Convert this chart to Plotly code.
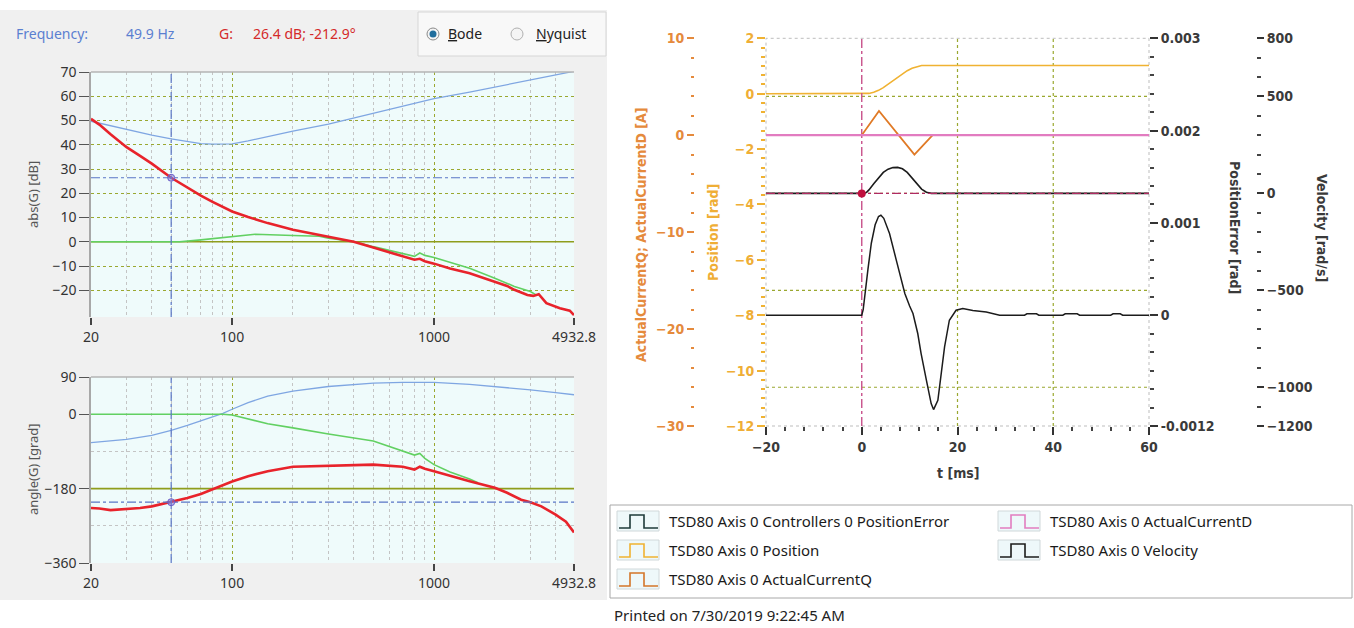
import plotly.graph_objects as go
import numpy as np

W, H = 1354, 628
def px(x):
    return x / W
def py(y):
    return 1 - y / H

# ---------------- Bode diagram data (frequency in Hz) ----------------
freq_range = [20, 4932.8]
mag_range = [-31, 70]
phase_range = [-360, 90]
mag_ticks = [70, 60, 50, 40, 30, 20, 10, 0, -10, -20]
phase_ticks = [90, 0, -180, -360]
phase_minor = [-90, -270]
freq_ticks = [20, 100, 1000, 4932.8]
freq_ticktext = ["20", "100", "1000", "4932.8"]
freq_minor = [30, 40, 50, 60, 70, 80, 90, 200, 300, 400, 500, 600, 700, 800, 900, 2000, 3000, 4000]

cursor_freq = 49.9
cursor_mag = 26.4
cursor_phase = -212.9
ref_mag = 0
ref_phase = -180

# controller (blue)
f_ctrl_mag = [20, 30, 40, 49.9, 60, 70, 80, 100, 120, 150, 200, 300, 500, 700, 1000, 1500, 2000, 3000, 4000, 4932.8]
ctrl_mag = [49.7, 46.3, 44.0, 42.4, 41.2, 40.5, 40.3, 40.4, 41.6, 43.4, 45.6, 48.5, 53.0, 55.9, 59.0, 61.7, 63.8, 66.6, 68.7, 70.3]
f_ctrl_ph = [20, 30, 40, 49.9, 60, 70, 80, 90, 100, 120, 150, 200, 300, 500, 700, 1000, 1500, 2000, 3000, 4000, 4932.8]
ctrl_ph = [-69, -61, -51, -39, -27, -16, -6, 2, 12, 28, 44, 56, 67, 75, 77, 77, 72, 67, 59, 52, 47]

# open loop (red)
f_open_mag = [20, 22, 25, 30, 35, 40, 49.9, 60, 70, 80, 100, 120, 150, 200, 300, 400, 500, 600, 700, 800, 850,
              900, 1000, 1200, 1500, 2000, 2300, 2500, 2900, 3100, 3300, 3600, 4200, 4700, 4932.8]
open_mag = [50.7, 48.3, 44.3, 39.0, 35.4, 32.2, 26.4, 22.3, 19.0, 16.5, 12.5, 10.2, 7.7, 5.0, 2.2, 0.0, -2.4, -4.3,
            -5.9, -7.4, -7.0, -8.0, -9.0, -11.0, -13.0, -16.4, -18.2, -19.8, -21.9, -22.3, -21.6, -25.3, -27.4, -28.4, -30.2]
f_open_ph = [20, 22, 25, 30, 35, 40, 49.9, 60, 70, 80, 100, 120, 150, 200, 300, 500, 700, 800, 850, 900, 1000,
             1200, 1500, 2000, 2300, 2700, 3000, 3400, 4000, 4500, 4932.8]
open_ph = [-227, -228, -232, -230, -227, -223, -212.9, -203, -193, -182, -163, -150, -138, -127, -124, -122, -127,
           -134, -127, -132, -138, -148, -162, -178, -190, -207, -213, -223, -243, -260, -286]

# closed loop (green)
f_cl_mag = [20, 55, 70, 90, 100, 130, 200, 270, 300, 400, 500, 700, 800, 850, 900, 1000, 1500, 2000, 2500, 3000, 3200]
cl_mag = [0, 0, 0.8, 1.7, 2.2, 3.1, 2.6, 2.3, 1.5, 0.1, -2.0, -4.7, -6.0, -4.6, -5.6, -6.5, -10.9, -15.0, -18.4, -20.5, -21.9]
f_cl_ph = [20, 90, 100, 120, 150, 200, 300, 500, 700, 800, 850, 900, 1000, 1200, 1500, 1650]
cl_ph = [0, 0, -2, -12, -23, -33, -48, -65, -89, -99, -95, -107, -122, -140, -157, -166]

# ---------------- Time-domain data (t in ms) ----------------
t_range = [-20, 60]
t_ticks = [-20, 0, 20, 40, 60]
pos_range = [-12, 2]
pos_ticks = [2, 0, -2, -4, -6, -8, -10, -12]
cur_range = [-30, 10]
cur_ticks = [10, 0, -10, -20, -30]
pe_range = [-0.0012, 0.003]
pe_ticks = [0.003, 0.002, 0.001, 0, -0.0012]
pe_ticktext = ["0.003", "0.002", "0.001", "0", "-0.0012"]
vel_range = [-1200, 800]
vel_ticks = [800, 500, 0, -500, -1000, -1200]
vel_grid = [500, 0, -500, -1000]
t_grid = [20, 40]
cursor_t = 0
cursor_vel = 0

t_pos = [-20, 0.5, 1.5, 2.5, 3.5, 4.5, 5.5, 6.5, 7.5, 8.5, 9.5, 10.5, 11.5, 12.5, 60]
position = [0, 0, 0.01, 0.05, 0.12, 0.22, 0.34, 0.47, 0.60, 0.72, 0.83, 0.92, 0.98, 1.02, 1.02]

t_curq = [-20, 0, 3.6, 11.0, 14.8, 60]
current_q = [0, 0, 2.5, -2.0, 0, 0]
t_curd = [-20, 60]
current_d = [0, 0]

t_vel = [-20, 0, 0.5, 1, 1.5, 2.5, 3.5, 4.5, 5.5, 6.5, 7.5, 8.5, 9.5, 10.5, 11.5, 12.5, 13.5, 14.5, 60]
velocity = [0, 0, 0, 5, 18, 50, 82, 108, 125, 133, 134, 127, 108, 80, 50, 22, 6, 0, 0]

t_pe = [-20, 0, 0.3, 0.8, 1.3, 2.0, 2.8, 3.5, 4.0, 4.6, 5.8, 7.2, 8.3, 9.0, 10.0, 10.7, 11.7, 12.4, 13.5, 14.5,
        15.0, 15.9, 16.6, 17.3, 18.3, 19.7, 21.1, 23.2, 26.0, 28.8, 34.0, 34.5, 36.5, 37.0, 42.0, 42.5, 45.0,
        45.5, 52.0, 52.5, 54.0, 54.5, 60]
pos_err_mrad = [0, 0, 0.06, 0.30, 0.50, 0.78, 0.98, 1.07, 1.083, 1.05, 0.885, 0.60, 0.38, 0.235, 0.10, 0.018,
                -0.198, -0.415, -0.704, -0.957, -1.022, -0.921, -0.632, -0.343, -0.054, 0.054, 0.072, 0.050,
                0.036, 0.0, 0.0, 0.015, 0.015, 0.0, 0.0, 0.015, 0.015, 0.0, 0.0, 0.015, 0.015, 0.0, 0.0]
pos_err = [v * 1e-3 for v in pos_err_mrad]  # mrad -> rad

# ---------------- styles ----------------
OLIVE = "#8f9d1c"
OLIVE_GRID = "#9aa830"
BLUE = "#7fa6e2"
RED = "#e8232b"
GREEN = "#62d062"
CURSOR_BLUE = "#5a76c6"
FONT_L = "Noto Sans, DejaVu Sans, sans-serif"
FONT_R = "DejaVu Sans Condensed, Liberation Sans Narrow, Roboto, sans-serif"
POS_C = "#f0b232"
CURQ_C = "#e07a26"
CURD_C = "#e27cc0"
CUR_LBL = "#e58a3c"
POS_LBL = "#efae36"
DARK_LBL = "#3a3a3a"

fig = go.Figure()

def line(x, y, xa, ya, color, width, dash="solid", name=None):
    fig.add_trace(go.Scatter(x=x, y=y, xaxis=xa, yaxis=ya, mode="lines", name=name,
                             line=dict(color=color, width=width, dash=dash), hoverinfo="skip"))

# Bode magnitude
line(freq_range, [ref_mag, ref_mag], "x", "y", OLIVE, 1.6)
line(f_ctrl_mag, ctrl_mag, "x", "y", BLUE, 1.3, name="controller")
line(f_cl_mag, cl_mag, "x", "y", GREEN, 1.6, name="closed loop")
line(f_open_mag, open_mag, "x", "y", RED, 2.6, name="open loop")
line(freq_range, [cursor_mag, cursor_mag], "x", "y", CURSOR_BLUE, 1.2, "dashdot")
line([cursor_freq, cursor_freq], mag_range, "x", "y", CURSOR_BLUE, 1.2, "dashdot")
fig.add_trace(go.Scatter(x=[cursor_freq], y=[cursor_mag], xaxis="x", yaxis="y", mode="markers",
                         marker=dict(size=7, color="rgba(120,120,220,0.5)", line=dict(color="#6a5ac8", width=1)),
                         hoverinfo="skip"))

# Bode phase
line(freq_range, [ref_phase, ref_phase], "x2", "y2", OLIVE, 1.6)
line(f_ctrl_ph, ctrl_ph, "x2", "y2", BLUE, 1.3)
line(f_cl_ph, cl_ph, "x2", "y2", GREEN, 1.6)
line(f_open_ph, open_ph, "x2", "y2", RED, 2.6)
line(freq_range, [cursor_phase, cursor_phase], "x2", "y2", CURSOR_BLUE, 1.2, "dashdot")
line([cursor_freq, cursor_freq], phase_range, "x2", "y2", CURSOR_BLUE, 1.2, "dashdot")
fig.add_trace(go.Scatter(x=[cursor_freq], y=[cursor_phase], xaxis="x2", yaxis="y2", mode="markers",
                         marker=dict(size=7, color="rgba(120,120,220,0.5)", line=dict(color="#6a5ac8", width=1)),
                         hoverinfo="skip"))

# Time domain
line(t_pos, position, "x3", "y3", POS_C, 1.6, name="TSD80 Axis 0 Position")
line([cursor_t, cursor_t], pos_range, "x3", "y3", "#c8508a", 1.4, "dashdot")
line(t_curq, current_q, "x3", "y4", CURQ_C, 1.8, name="TSD80 Axis 0 ActualCurrentQ")
line(t_curd, current_d, "x3", "y4", CURD_C, 2.2, name="TSD80 Axis 0 ActualCurrentD")
line(t_pe, pos_err, "x3", "y5", "#1c1c1c", 1.5, name="TSD80 Axis 0 Controllers 0 PositionError")
line(t_vel, velocity, "x3", "y6", "#1c1c1c", 1.6, name="TSD80 Axis 0 Velocity")
line(t_range, [cursor_vel, cursor_vel], "x3", "y6", "#b02a62", 1.4, "dashdot")
fig.add_trace(go.Scatter(x=[cursor_t], y=[cursor_vel], xaxis="x3", yaxis="y6", mode="markers",
                         marker=dict(size=8, color="#c0103e"), hoverinfo="skip"))

# ---------------- axes ----------------
tickfont_l = dict(family=FONT_L, size=14, color="#333333")
bode_x = dict(type="log", range=[np.log10(freq_range[0]), np.log10(freq_range[1])],
              domain=[px(91), px(574)], tickvals=freq_ticks, ticktext=freq_ticktext,
              ticks="outside", ticklen=7, tickcolor="#444", tickwidth=1.5, tickfont=tickfont_l,
              showgrid=True, gridcolor=OLIVE_GRID, griddash="dot", gridwidth=1,
              minor=dict(tickvals=freq_minor, showgrid=True, gridcolor="#c4c4c4", griddash="dot",
                         gridwidth=1, ticklen=0),
              showline=False, zeroline=False, fixedrange=True, automargin=False)
fig.update_layout(
    xaxis=dict(bode_x, anchor="y"),
    xaxis2=dict(bode_x, anchor="y2"),
    yaxis=dict(range=mag_range, domain=[py(317), py(72)], anchor="x", tickvals=mag_ticks,
               ticks="outside", ticklen=10, tickcolor="#555", tickfont=tickfont_l,
               showline=True, linecolor="#a8a8a8", linewidth=1.5, automargin=False,
               showgrid=True, gridcolor=OLIVE_GRID, griddash="dot", zeroline=False),
    yaxis2=dict(range=phase_range, domain=[py(563), py(377)], anchor="x2", tickvals=phase_ticks,
                ticks="outside", ticklen=10, tickcolor="#555", tickfont=tickfont_l,
                showline=True, linecolor="#a8a8a8", linewidth=1.5, automargin=False,
                showgrid=True, gridcolor=OLIVE_GRID, griddash="dot", zeroline=False,
                minor=dict(tickvals=phase_minor, showgrid=True, gridcolor="#c4c4c4", griddash="dot", ticklen=0)),
)

def rfont(color, size=14):
    return dict(family=FONT_R, size=size, color=color, weight="bold")

fig.update_layout(
    xaxis3=dict(range=t_range, domain=[px(766), px(1149)], anchor="y3", tickvals=t_ticks,
                ticks="outside", ticklen=8, tickwidth=2, tickcolor="#333", tickfont=rfont(DARK_LBL),
                minor=dict(dtick=4, tick0=0, ticks="outside", ticklen=4, tickwidth=2, tickcolor="#444"),
                showgrid=False, showline=False, zeroline=False, automargin=False),
    yaxis3=dict(range=pos_range, domain=[py(426), py(38.3)], anchor="x3", side="left", tickvals=pos_ticks,
                ticks="outside", ticklen=8, tickwidth=2, tickcolor=POS_C, tickfont=rfont(POS_LBL),
                minor=dict(dtick=1 / 3, tick0=0, ticks="outside", ticklen=4, tickwidth=1.5, tickcolor=POS_C),
                showgrid=False, showline=False, zeroline=False, automargin=False),
    yaxis4=dict(range=cur_range, overlaying="y3", side="left", anchor="free", position=px(694),
                tickvals=cur_ticks, ticks="outside", ticklen=7, tickwidth=2, tickcolor=CUR_LBL,
                tickfont=rfont(CUR_LBL),
                minor=dict(dtick=2, tick0=0, ticks="outside", ticklen=3, tickwidth=2, tickcolor=CUR_LBL),
                showgrid=False, showline=False, zeroline=False, automargin=False),
    yaxis5=dict(range=pe_range, overlaying="y3", side="right", anchor="x3", tickvals=pe_ticks,
                ticktext=pe_ticktext, ticks="outside", ticklen=8, tickwidth=2, tickcolor="#333",
                tickfont=rfont(DARK_LBL),
                minor=dict(dtick=0.0002, tick0=0, ticks="outside", ticklen=4, tickwidth=2, tickcolor="#444"),
                showgrid=False, showline=False, zeroline=False, automargin=False),
    yaxis6=dict(range=vel_range, overlaying="y3", side="right", anchor="free", position=px(1256),
                tickvals=vel_ticks, ticks="outside", ticklen=7, tickwidth=2, tickcolor="#333",
                tickfont=rfont(DARK_LBL),
                minor=dict(dtick=100, tick0=0, ticks="outside", ticklen=4, tickwidth=2, tickcolor="#444"),
                showgrid=False, showline=False, zeroline=False, automargin=False),
)

# ---------------- shapes ----------------
shapes = []
# left gray panel
shapes.append(dict(type="rect", xref="paper", yref="paper", x0=0, x1=px(607), y0=py(600), y1=py(10),
                   fillcolor="#f0f0f0", line=dict(width=0), layer="below"))
# bode plot backgrounds and top border
for xa, ya in (("x", "y"), ("x2", "y2")):
    shapes.append(dict(type="rect", xref=f"{xa} domain", yref=f"{ya} domain", x0=0, x1=1, y0=0, y1=1,
                       fillcolor="#effbfb", line=dict(width=0), layer="below"))
    shapes.append(dict(type="line", xref=f"{xa} domain", yref=f"{ya} domain", x0=0, x1=1, y0=1, y1=1,
                       line=dict(color="#b4b4b4", width=1.5)))
# radio box
shapes.append(dict(type="rect", xref="paper", yref="paper", x0=px(418), x1=px(606), y0=py(56), y1=py(12),
                   fillcolor="#f8f8f8", line=dict(color="#d6d6d6", width=1), layer="below"))
for cx, sel in ((433, True), (517, False)):
    shapes.append(dict(type="circle", xref="paper", yref="paper", x0=px(cx - 6), x1=px(cx + 6),
                       y0=py(34 + 6), y1=py(34 - 6), fillcolor="#f4f4f4",
                       line=dict(color="#8a8a8a" if sel else "#b0b0b0", width=1)))
    if sel:
        shapes.append(dict(type="circle", xref="paper", yref="paper", x0=px(cx - 3.5), x1=px(cx + 3.5),
                           y0=py(34 + 3.5), y1=py(34 - 3.5), fillcolor="#1f6d9c", line=dict(width=0)))
# right chart grid and frame
for tg in t_grid:
    shapes.append(dict(type="line", xref="x3", yref="y3 domain", x0=tg, x1=tg, y0=0, y1=1,
                       line=dict(color=OLIVE_GRID, width=1.2, dash="dot"), layer="below"))
for vg in vel_grid:
    shapes.append(dict(type="line", xref="x3 domain", yref="y6", x0=0, x1=1, y0=vg, y1=vg,
                       line=dict(color=OLIVE_GRID, width=1.2, dash="dot"), layer="below"))
shapes.append(dict(type="rect", xref="x3 domain", yref="y3 domain", x0=0, x1=1, y0=0, y1=1,
                   line=dict(color="#bdbdbd", width=1, dash="dot"), layer="below"))
# legend box
shapes.append(dict(type="rect", xref="paper", yref="paper", x0=px(610), x1=px(1352), y0=py(598), y1=py(505),
                   fillcolor="white", line=dict(color="#a8a8a8", width=1), layer="below"))

legend_items = [
    ("TSD80 Axis 0 Controllers 0 PositionError", "#1e3a3a", 617, 521),
    ("TSD80 Axis 0 Position", POS_C, 617, 550),
    ("TSD80 Axis 0 ActualCurrentQ", "#d4762a", 617, 579),
    ("TSD80 Axis 0 ActualCurrentD", CURD_C, 998, 521),
    ("TSD80 Axis 0 Velocity", "#1c1c1c", 998, 550),
]
annotations = []
for text, col, x0, yc in legend_items:
    shapes.append(dict(type="rect", xref="paper", yref="paper", x0=px(x0), x1=px(x0 + 42),
                       y0=py(yc + 10), y1=py(yc - 10), fillcolor="#eef8fa",
                       line=dict(color="#d0d8da", width=1)))
    pts = [(x0 + 2, yc + 7), (x0 + 13, yc + 7), (x0 + 13, yc - 6), (x0 + 27, yc - 6), (x0 + 27, yc + 7),
           (x0 + 41, yc + 7)]
    path = "M " + " L ".join(f"{px(a):.5f},{py(b):.5f}" for a, b in pts)
    shapes.append(dict(type="path", xref="paper", yref="paper", path=path, line=dict(color=col, width=1.6)))
    annotations.append(dict(text=text, x=px(x0 + 50), y=py(yc), xref="paper", yref="paper", xanchor="left",
                            yanchor="middle", showarrow=False,
                            font=dict(family="Noto Sans, DejaVu Sans, sans-serif", size=15, color="#1a1a1a")))

# ---------------- annotations ----------------
def ann(text, x, y, font, xanchor="left", angle=0):
    annotations.append(dict(text=text, x=px(x), y=py(y), xref="paper", yref="paper", xanchor=xanchor,
                            yanchor="middle", showarrow=False, textangle=angle, font=font))

lf = lambda c, s=14: dict(family=FONT_L, size=s, color=c)
ann("Frequency:", 14, 34, lf("#5b7fd0"))
ann("49.9 Hz", 124, 34, lf("#5b7fd0"))
ann("G:", 217, 34, lf("#d42a2a"))
ann("26.4 dB; -212.9°", 251, 34, lf("#d42a2a"))
ann("<u>B</u>ode", 446, 34, lf("#222"))
ann("<u>N</u>yquist", 534, 34, lf("#222"))
ann("abs(G) [dB]", 33, 195, lf("#555", 13), xanchor="center", angle=-90)
ann("angle(G) [grad]", 33, 469, lf("#555", 13), xanchor="center", angle=-90)

ann("ActualCurrentQ; ActualCurrentD [A]", 641, 235, rfont(CUR_LBL), xanchor="center", angle=-90)
ann("Position [rad]", 713, 233, rfont(POS_LBL), xanchor="center", angle=-90)
ann("PositionError [rad]", 1235, 227, rfont(DARK_LBL), xanchor="center", angle=90)
ann("Velocity [rad/s]", 1322, 228, rfont(DARK_LBL), xanchor="center", angle=90)
ann("t [ms]", 958, 473, rfont(DARK_LBL), xanchor="center")
ann("Printed on 7/30/2019 9:22:45 AM", 612, 615, lf("#222", 15))

fig.update_layout(width=W, height=H, margin=dict(l=0, r=0, t=0, b=0, autoexpand=False), paper_bgcolor="white",
                  plot_bgcolor="rgba(0,0,0,0)", showlegend=False, shapes=shapes, annotations=annotations)

fig.write_html("out.html", config={"displayModeBar": False},
               post_script="document.body.style.margin='0';document.body.style.overflow='hidden';")
